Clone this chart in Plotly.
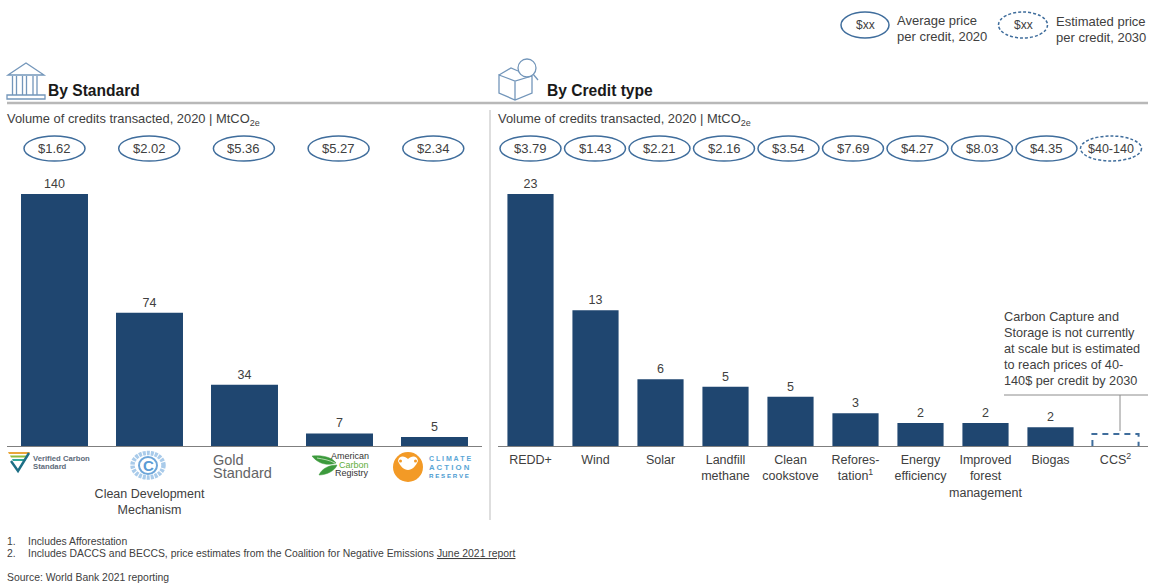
import plotly.graph_objects as go

# ---- data ----
standards = ["Verified Carbon Standard", "Clean Development Mechanism", "Gold Standard", "American Carbon Registry", "Climate Action Reserve"]
standard_tick_index = [1]
standard_ticks = ["Clean Development<br>Mechanism"]
standard_volume = [140, 74, 34, 7, 5]
standard_price = ["$1.62", "$2.02", "$5.36", "$5.27", "$2.34"]

credit_types = ["REDD+", "Wind", "Solar", "Landfill<br>methane", "Clean<br>cookstove", "Refores-<br>tation<sup>1</sup>",
                "Energy<br>efficiency", "Improved<br>forest<br>management", "Biogas", "CCS<sup>2</sup>"]
credit_volume = [23, 12.4, 6.1, 5.4, 4.5, 3.0, 2.1, 2.1, 1.7]
credit_labels = ["23", "13", "6", "5", "5", "3", "2", "2", "2"]
credit_price = ["$3.79", "$1.43", "$2.21", "$2.16", "$3.54", "$7.69", "$4.27", "$8.03", "$4.35"]
ccs_volume = 1.1
ccs_price = "$40-140"

# ---- style ----
W, H = 1151, 585
NAVY = "#1f4670"
RING = "#3f6d9c"
ICON = "#7396ba"
TXT = "#404040"
FONT = "Liberation Sans, Arial, sans-serif"

fig = go.Figure()
fig.add_trace(go.Bar(x=list(range(5)), y=standard_volume, text=[str(v) for v in standard_volume],
                     textposition="outside", cliponaxis=False, width=0.705, hovertext=standards,
                     marker=dict(color=NAVY, line_width=0), textfont=dict(size=12.5, color=TXT),
                     xaxis="x", yaxis="y", hoverinfo="text+y"))
fig.add_trace(go.Bar(x=list(range(len(credit_volume))), y=credit_volume, text=credit_labels,
                     textposition="outside", cliponaxis=False, width=0.71,
                     marker=dict(color=NAVY, line_width=0), textfont=dict(size=12.5, color=TXT),
                     xaxis="x2", yaxis="y2", hoverinfo="x+y"))
ci = len(credit_volume)
fig.add_trace(go.Scatter(x=[ci - .355, ci - .355, ci + .355, ci + .355], y=[0, ccs_volume, ccs_volume, 0],
                         mode="lines", line=dict(color=RING, width=2, dash="6px,5px"),
                         xaxis="x2", yaxis="y2", hoverinfo="skip", cliponaxis=False))
# invisible carrier for the pixel-coordinates overlay used by decorations
fig.add_trace(go.Scatter(x=[0], y=[0], mode="none", xaxis="x3", yaxis="y3", hoverinfo="skip"))

shapes, notes = [], []


def text(x, y, s, size=11.5, color=TXT, anchor="left", bold=False, vanchor="middle"):
    if bold:
        s = f"<b>{s}</b>"
    notes.append(dict(x=x, y=y, xref="x3", yref="y3", text=s, showarrow=False, xanchor=anchor, yanchor=vanchor,
                      align=anchor, borderpad=0, borderwidth=0,
                      font=dict(size=size, color=color, family=FONT)))


def line(x0, y0, x1, y1, color="#808080", width=1):
    shapes.append(dict(type="line", x0=x0, y0=y0, x1=x1, y1=y1, xref="x3", yref="y3", line=dict(color=color, width=width)))


def path(d, color=ICON, width=1.3, fill=None):
    shapes.append(dict(type="path", path=d, xref="x3", yref="y3", line=dict(color=color, width=width),
                       fillcolor=fill if fill else "rgba(0,0,0,0)"))


def ellipse(cx, cy, label, w=61, h=25, dash="solid", size=13, color=RING, lw=1.5):
    shapes.append(dict(type="circle", x0=cx - w / 2, x1=cx + w / 2, y0=cy - h / 2, y1=cy + h / 2, xref="x3", yref="y3",
                       line=dict(color=color, width=lw, dash=dash)))
    text(cx, cy, label, size=size, anchor="center")


# price ellipses
for i, p in enumerate(standard_price):
    ellipse(54.5 + 94.7 * i, 148.5, p)
for i, p in enumerate(credit_price):
    ellipse(530.5 + 64.5 * i, 148.5, p)
ellipse(530.5 + 64.5 * 9, 148.5, ccs_price, dash="3px,2px", size=12.5)

# legend
ellipse(865, 25, "$xx", w=48, h=26, size=12)
ellipse(1023, 25, "$xx", w=49, h=26, dash="3px,2px", size=12)
text(897, 20, "Average price", size=13)
text(897, 36, "per credit, 2020", size=13)
text(1056, 21, "Estimated price", size=13)
text(1056, 37, "per credit, 2030", size=13)

# headers
line(7, 103, 1148, 103, color="#b8b8b8", width=2.5)
line(490, 110, 490, 520, color="#c8c8c8", width=1.2)
text(48, 90, "By Standard", size=15.6, color="#1a1a1a", bold=True)
text(547, 90, "By Credit type", size=15.6, color="#1a1a1a", bold=True)
sub = "Volume of credits transacted, 2020 | MtCO<sub>2e</sub>"
text(7, 119, sub, size=12.9)
text(498, 119, sub, size=12.9)

# bank icon
path("M 8 75 L 26 63 L 44 75 Z")
for cx in (14.5, 24.5, 35):
    path(f"M {cx-2} 76 L {cx-2} 95 M {cx+2} 76 L {cx+2} 95")
path("M 7 95 L 45 95 L 45 99 L 7 99 Z")

# box + magnifier icon
path("M 499 75 L 515 81 L 532 76 L 532 93 L 515 100 L 499 93 Z M 515 81 L 515 100")
path("M 499 75 L 511 68 L 518 71")
shapes.append(dict(type="circle", x0=518, x1=536, y0=59, y1=77, xref="x3", yref="y3", line=dict(color=ICON, width=1.3)))
line(533, 74, 538, 80, color=ICON, width=1.3)

# callout
for k, s in enumerate(["Carbon Capture and", "Storage is not currently", "at scale but is estimated",
                       "to reach prices of 40-", "140$ per credit by 2030"]):
    text(1004, 317 + 16 * k, s, size=12.7)
line(1004, 395, 1148, 395, color="#8c8c8c")
line(1120, 395, 1120, 431, color="#8c8c8c")

# logo: Verified Carbon Standard
path("M 8 452 L 30 452 L 29 454 L 9 454 Z", color="#e9a63a", width=0, fill="#e9a63a")
path("M 10 455.5 L 28 455.5 L 27 457.5 L 11 457.5 Z", color="#8fbc3e", width=0, fill="#8fbc3e")
path("M 12 459 L 26 459 L 25 461 L 13 461 Z", color="#2ea79b", width=0, fill="#2ea79b")
path("M 11 461 L 18 471 L 29 453", color="#1d6f86", width=2.4)
text(33, 458, "Verified Carbon", size=7.7, color="#5d6b7a", bold=True)
text(33, 466, "Standard", size=7.7, color="#5d6b7a", bold=True)

# logo: Clean Development Mechanism
shapes.append(dict(type="circle", x0=132.5, x1=163.5, y0=453, y1=477.5, xref="x3", yref="y3",
                   line=dict(color="#a9cbea", width=4.5, dash="3px,1px")))
shapes.append(dict(type="circle", x0=139, x1=157, y0=457, y1=474, xref="x3", yref="y3",
                   line=dict(color="#6ea6d9", width=2)))
text(148, 465.5, "<b>C</b>", size=15, color="#5b9bd5", anchor="center")

# logo: Gold Standard
text(213, 459.5, "Gold", size=14.5, color="#636466")
text(213, 472.5, "Standard", size=14.5, color="#636466")

# logo: American Carbon Registry
path("M 312 456 C 322 455 332 457 336 463 C 328 466 318 464 312 456 Z", color="#3c9a3c", width=0.5, fill="#3c9a3c")
path("M 319 475 C 322 468 330 465 337 465 C 335 471 326 475 319 475 Z", color="#3c9a3c", width=0.5, fill="#3c9a3c")
path("M 317 458 C 323 459 329 460 335 463", color="#cfe8c8", width=0.8)
text(369, 456, "American", size=9, color="#333333", anchor="right")
text(369, 465, "Carbon", size=9, color="#5fae3c", anchor="right")
text(369, 473, "Registry", size=9, color="#333333", anchor="right")

# logo: Climate Action Reserve
shapes.append(dict(type="circle", x0=393, x1=423, y0=452, y1=482, xref="x3", yref="y3",
                   line=dict(width=0), fillcolor="#f39a26"))
path("M 398 461 C 399 455 405 456 408 459 C 411 456 417 455 418 461 C 416 466 412 470 408 470 C 404 470 400 466 398 461 Z",
     color="#ffffff", width=0, fill="#ffffff")
for cx in (400.5, 415.5):
    shapes.append(dict(type="circle", x0=cx - 1.5, x1=cx + 1.5, y0=459.5, y1=462.5, xref="x3", yref="y3",
                       line=dict(width=0), fillcolor="#f39a26"))
text(429, 458, "C L I M A T E", size=7, color="#5aa6d6", bold=True)
text(429, 467, "A C T I O N", size=7.8, color="#5aa6d6", bold=True)
text(429, 475.5, "R E S E R V E", size=6.2, color="#4a9ad0", bold=True)

# footnotes
text(7, 541, "1.", size=10.4)
text(28, 541, "Includes Afforestation", size=10.4)
text(7, 553, "2.", size=10.4)
text(28, 553, "Includes DACCS and BECCS, price estimates from the Coalition for Negative Emissions <u>June 2021 report</u>", size=10.4)
text(7, 577, "Source: World Bank 2021 reporting", size=10.4)

axis_common = dict(showgrid=False, zeroline=False, showline=True, linecolor="#7f7f7f", linewidth=1, ticks="",
                   fixedrange=True, tickangle=0, tickfont=dict(size=12.5, color=TXT, family=FONT))
fig.update_layout(
    width=W, height=H, margin=dict(l=0, r=0, t=0, b=0), autosize=False,
    paper_bgcolor="white", plot_bgcolor="rgba(0,0,0,0)", showlegend=False,
    font=dict(family=FONT, color=TXT), shapes=shapes, annotations=notes, barmode="overlay",
    xaxis=dict(domain=[7 / W, 482 / W], range=[-0.5, 4.5], tickmode="array", tickvals=standard_tick_index,
               ticktext=standard_ticks, anchor="y", ticklabelstandoff=36, **axis_common),
    yaxis=dict(domain=[1 - 446 / H, 1 - 194 / H], range=[0, 140], visible=False, anchor="x", fixedrange=True),
    xaxis2=dict(domain=[498 / W, 1148 / W], range=[-0.5, 9.5], tickmode="array", tickvals=list(range(10)),
                ticktext=credit_types, anchor="y2", ticklabelstandoff=2, **axis_common),
    yaxis2=dict(domain=[1 - 446 / H, 1 - 194 / H], range=[0, 23], visible=False, anchor="x2", fixedrange=True),
    xaxis3=dict(domain=[0, 1], range=[0, W], visible=False, anchor="y3", fixedrange=True),
    yaxis3=dict(domain=[0, 1], range=[H, 0], visible=False, anchor="x3", fixedrange=True),
)

fig.write_html("out.html", config=dict(displayModeBar=False),
               post_script="document.body.style.margin='0';")
